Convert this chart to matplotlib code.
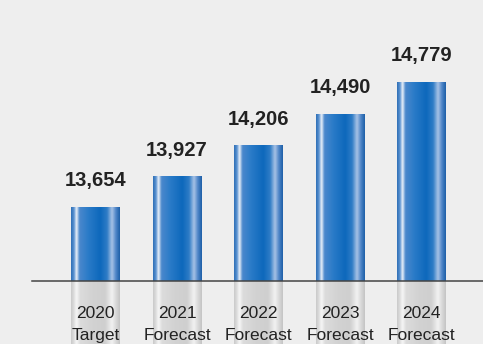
import matplotlib.pyplot as plt
import numpy as np
from matplotlib.colors import LinearSegmentedColormap

plt.rcParams['font.family'] = ['Liberation Sans', 'DejaVu Sans']

years = ['2020', '2021', '2022', '2023', '2024']
kinds = ['Target', 'Forecast', 'Forecast', 'Forecast', 'Forecast']
values = [13654, 13927, 14206, 14490, 14779]

base = 12990
bg = '#eeeeee'
bar_w = 0.6

# horizontal shading to make the bars look like cylinders
blue = LinearSegmentedColormap.from_list('cyl_blue', [
    (0.00, '#2f6fb6'), (0.06, '#5c94d2'), (0.11, '#f2f6fb'), (0.17, '#4b88cc'),
    (0.35, '#2a7bc8'), (0.60, '#0d68bc'), (0.74, '#2f7cc6'), (0.84, '#a9c3e6'),
    (0.92, '#4f86c8'), (1.00, '#1e5fa8')])
grey = LinearSegmentedColormap.from_list('cyl_grey', [
    (0.00, '#c9c9c9'), (0.06, '#dedede'), (0.11, '#f7f7f7'), (0.18, '#dcdcdc'),
    (0.45, '#d2d2d2'), (0.70, '#cfcfcf'), (0.84, '#f2f2f2'), (0.92, '#dadada'),
    (1.00, '#c4c4c4')])
shade = np.linspace(0, 1, 200).reshape(1, -1)

fig = plt.figure(figsize=(4.83, 3.44), dpi=100, facecolor=bg)
ax = fig.add_axes([0, 0, 1, 1])
ax.set_facecolor(bg)
ax.set_xlim(-1.17, 4.75)
ax.set_ylim(12423, 15519)
ax.axis('off')

for i, v in enumerate(values):
    x0, x1 = i - bar_w / 2, i + bar_w / 2
    ax.imshow(shade, cmap=blue, aspect='auto', extent=(x0, x1, base, v),
              interpolation='bicubic', zorder=2)
    ax.imshow(shade, cmap=grey, aspect='auto', extent=(x0, x1, 12423, base),
              interpolation='bicubic', zorder=2)
    ax.annotate(f'{v:,}', (i, v), xytext=(0, 15), textcoords='offset points',
                ha='center', va='baseline', fontsize=14.5, fontweight='bold',
                color='#222222')
    ax.text(i, 12657, years[i], ha='center', va='baseline', fontsize=12.5,
            color='#222222', zorder=3)
    ax.text(i, 12459, kinds[i], ha='center', va='baseline', fontsize=12.5,
            color='#222222', zorder=3)

ax.plot([-0.78, 4.75], [base, base], color='#444444', lw=1.1, zorder=4)

fig.savefig('out.png', dpi=100, facecolor=bg)
